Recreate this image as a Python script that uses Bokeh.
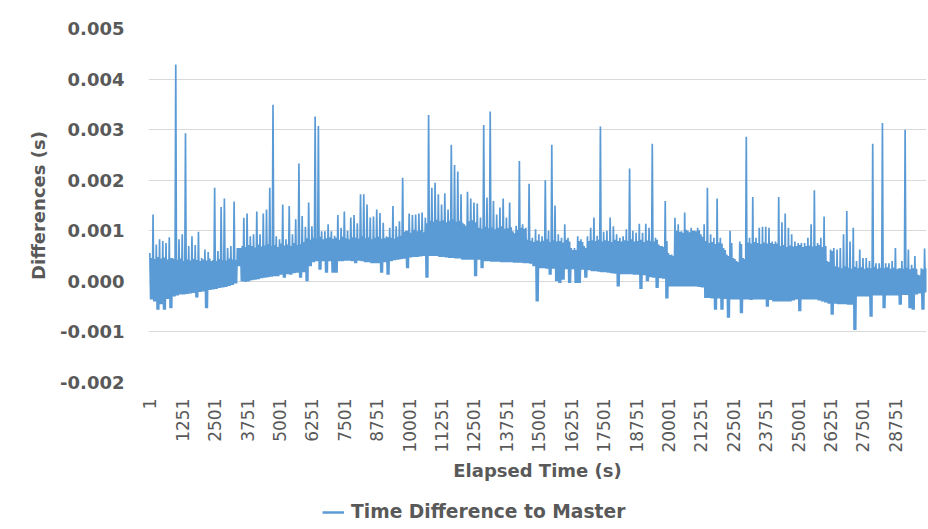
import math
from bokeh.plotting import figure
from bokeh.layouts import column
from bokeh.models import (FixedTicker, PrintfTickFormatter, Legend, LegendItem,
                          Range1d, ColumnDataSource)
from bokeh.embed import file_html
from bokeh.resources import INLINE

# ---- data (values in milliseconds, i.e. 0.001 s) ----
# three readings per 125 s slot: highest spike, lowest dip, top of the dense band
step_s = 125
upper_ms = [
    0.56, 1.32, 0.73, 0.83, 0.80, 0.76, 0.87, 0.46, 4.29, 0.83,
    0.93, 2.93, 0.70, 0.89, 0.72, 0.98, 0.46, 0.63, 0.58, 0.40,
    1.85, 0.60, 1.47, 1.64, 0.66, 0.70, 1.58, 0.66, 0.66, 1.26,
    1.34, 0.89, 0.93, 1.38, 0.93, 1.34, 1.42, 1.85, 3.49, 0.89,
    0.83, 1.52, 0.83, 1.49, 0.93, 1.23, 2.33, 1.29, 1.08, 1.56,
    1.09, 3.26, 3.07, 0.99, 0.99, 1.13, 0.99, 0.90, 1.31, 1.06,
    1.38, 1.00, 1.26, 1.31, 1.15, 1.72, 1.72, 1.52, 1.26, 1.28,
    1.42, 1.35, 1.16, 0.89, 1.06, 1.49, 1.09, 1.19, 2.05, 1.00,
    1.34, 1.31, 1.32, 1.34, 1.36, 1.26, 3.29, 1.85, 1.95, 1.72,
    1.52, 1.74, 1.42, 2.70, 2.30, 2.17, 1.72, 1.13, 1.77, 1.64,
    1.56, 1.54, 1.26, 3.09, 1.66, 3.36, 1.59, 1.32, 1.46, 1.64,
    1.26, 1.56, 0.99, 1.10, 2.38, 1.13, 1.06, 1.93, 0.86, 1.03,
    0.93, 0.89, 2.00, 1.00, 2.70, 1.50, 0.93, 0.86, 1.13, 0.86,
    0.66, 0.66, 0.89, 0.83, 0.70, 0.89, 1.06, 1.26, 0.90, 3.06,
    0.98, 1.00, 1.26, 1.09, 0.93, 0.86, 0.89, 1.03, 2.23, 1.00,
    0.96, 1.14, 0.96, 1.14, 1.06, 2.72, 0.86, 0.73, 0.70, 1.59,
    0.56, 0.53, 1.26, 1.13, 0.99, 1.36, 1.00, 1.06, 1.00, 1.06,
    0.93, 1.13, 1.85, 0.93, 0.86, 1.64, 0.86, 0.66, 0.53, 1.00,
    0.46, 0.40, 0.79, 0.46, 2.86, 0.86, 1.67, 0.86, 1.06, 1.08,
    1.08, 1.06, 0.79, 0.79, 1.67, 1.17, 1.34, 1.06, 0.93, 0.79,
    0.76, 0.76, 0.76, 0.86, 1.13, 1.80, 0.76, 0.86, 1.28, 0.40,
    0.63, 0.66, 0.63, 0.66, 0.93, 1.39, 0.79, 1.06, 0.40, 0.63,
    0.46, 0.46, 0.40, 2.72, 0.36, 0.36, 3.13, 0.36, 0.36, 0.40,
    0.66, 0.26, 0.40, 3.00, 0.63, 0.33, 0.50, 0.13, 0.26, 0.65,
    0.13,
]
lower_ms = [
    -0.36, -0.40, -0.56, -0.45, -0.56, -0.35, -0.53, -0.30, -0.28, -0.26,
    -0.26, -0.25, -0.24, -0.23, -0.32, -0.21, -0.20, -0.53, -0.17, -0.16,
    -0.15, -0.13, -0.12, -0.11, -0.09, -0.07, -0.04, 0.30, 0.00, -0.01,
    0.00, 0.02, 0.03, 0.04, 0.06, 0.07, 0.08, 0.09, 0.10, 0.10,
    0.13, 0.07, 0.14, 0.13, 0.16, 0.17, 0.07, 0.18, 0.00, 0.30,
    0.38, 0.40, 0.23, 0.40, 0.17, 0.40, 0.17, 0.17, 0.40, 0.40,
    0.41, 0.41, 0.40, 0.36, 0.41, 0.40, 0.38, 0.38, 0.36, 0.36,
    0.36, 0.17, 0.38, 0.13, 0.40, 0.42, 0.43, 0.44, 0.45, 0.26,
    0.47, 0.48, 0.48, 0.49, 0.50, 0.07, 0.50, 0.50, 0.50, 0.48,
    0.48, 0.47, 0.46, 0.46, 0.45, 0.45, 0.43, 0.43, 0.43, 0.43,
    0.10, 0.43, 0.26, 0.40, 0.40, 0.39, 0.39, 0.39, 0.38, 0.38,
    0.38, 0.38, 0.37, 0.37, 0.37, 0.36, 0.36, 0.35, 0.30, -0.40,
    0.26, 0.26, 0.25, 0.13, 0.25, 0.00, -0.03, 0.03, 0.24, -0.03,
    0.24, -0.03, -0.03, 0.23, 0.07, 0.22, 0.20, 0.20, 0.19, 0.18,
    0.18, 0.17, 0.16, 0.15, -0.10, 0.14, 0.14, 0.14, 0.14, 0.13,
    0.13, -0.15, 0.12, 0.00, 0.08, 0.07, -0.13, 0.06, 0.05, -0.34,
    -0.10, -0.10, -0.10, -0.10, -0.10, -0.10, -0.10, -0.10, -0.10, -0.11,
    -0.12, -0.33, -0.33, -0.34, -0.56, -0.34, -0.56, -0.35, -0.72, -0.36,
    -0.36, -0.36, -0.63, -0.36, -0.36, -0.37, -0.36, -0.36, -0.36, -0.36,
    -0.50, -0.37, -0.40, -0.40, -0.40, -0.40, -0.40, -0.40, -0.38, -0.36,
    -0.59, -0.36, -0.36, -0.36, -0.36, -0.36, -0.38, -0.40, -0.42, -0.44,
    -0.66, -0.44, -0.45, -0.45, -0.45, -0.46, -0.46, -0.96, -0.30, -0.30,
    -0.30, -0.30, -0.70, -0.28, -0.28, -0.28, -0.53, -0.28, -0.28, -0.28,
    -0.28, -0.46, -0.27, -0.27, -0.53, -0.56, -0.26, -0.24, -0.56, -0.22,
    -0.20,
]
band_top_ms = [
    0.46, 0.44, 0.48, 0.45, 0.47, 0.43, 0.46, 0.44,
    0.42, 0.45, 0.40, 0.43, 0.41, 0.44, 0.42, 0.40, 0.43, 0.41, 0.45, 0.42,
    0.40, 0.44, 0.42, 0.41, 0.45, 0.43, 0.42,
    0.66, 0.70, 0.68, 0.72, 0.70, 0.67, 0.73, 0.69, 0.71, 0.74, 0.70, 0.72,
    0.68, 0.75, 0.71, 0.73, 0.70, 0.76, 0.72, 0.74, 0.78,
    0.85, 0.82, 0.86, 0.84, 0.88, 0.83, 0.85, 0.87, 0.84, 0.86, 0.82, 0.88,
    0.85, 0.83, 0.87, 0.86, 0.84, 0.89, 0.85, 0.87, 0.83, 0.86, 0.88, 0.84,
    0.85, 0.87, 0.86, 0.84, 0.88, 0.90,
    0.98, 1.00, 0.96, 1.02, 0.99, 1.01, 0.97,
    1.15, 1.20, 1.18, 1.22, 1.19, 1.21, 1.17, 1.20, 1.23, 1.18, 1.20, 1.16,
    1.10, 1.19, 1.21, 1.17,
    1.06, 1.04, 1.08, 1.05, 1.07, 1.03, 1.06, 1.09, 1.04, 1.05, 1.07, 0.95,
    1.02, 1.06, 1.04,
    0.82, 0.80, 0.78, 0.81, 0.79, 0.80, 0.83, 0.78, 0.81, 0.79, 0.80, 0.77,
    0.82, 0.79, 0.62, 0.62, 0.80, 0.78, 0.66, 0.80, 0.81,
    0.80, 0.82, 0.79, 0.81, 0.80, 0.78, 0.82, 0.80, 0.79, 0.81, 0.80, 0.83,
    0.79, 0.80, 0.82, 0.78, 0.81, 0.80, 0.79, 0.82, 0.70, 0.68, 0.80, 0.52,
    0.50, 1.00, 0.98, 0.96, 1.02, 0.97, 1.00, 0.99, 1.01,
    0.88, 0.80, 0.76, 0.78, 0.74, 0.77, 0.75, 0.62, 0.50, 0.76, 0.44, 0.38,
    0.74, 0.44, 0.77, 0.75, 0.78, 0.76, 0.74, 0.77, 0.75, 0.76, 0.74, 0.75,
    0.70, 0.72, 0.68, 0.71, 0.69, 0.70, 0.72, 0.68, 0.70, 0.71, 0.69, 0.70,
    0.72, 0.68, 0.70, 0.38, 0.60,
    0.30, 0.28, 0.26, 0.30, 0.27, 0.25, 0.29, 0.26, 0.28, 0.25, 0.27, 0.26,
    0.29, 0.25, 0.27, 0.26, 0.28, 0.25, 0.27, 0.24, 0.26, 0.25, 0.27, 0.24,
    0.26, 0.25, 0.12, 0.24, 0.26, 0.12,
]
x_tick_values = [1 + 1250 * k for k in range(24)]
y_tick_values = [-0.002, -0.001, 0.0, 0.001, 0.002, 0.003, 0.004, 0.005]
series_name = "Time Difference to Master"

# ---- build the line: spike, dip, band top, dip inside each 125 s slot ----
xs, ys = [], []
for i, (hi, lo, top) in enumerate(zip(upper_ms, lower_ms, band_top_ms)):
    t0 = 1 + step_s * i
    for dt, v in ((0, hi), (31, lo), (62, top), (94, lo)):
        xs.append(t0 + dt)
        ys.append(v / 1000.0)
src = ColumnDataSource(data=dict(t=xs, d=ys))

FONT = "DejaVu Sans"
GREY = "#595959"
BLUE = "#5B9BD5"

p = figure(width=928, height=495, output_backend="svg", toolbar_location=None,
           x_range=Range1d(-50, 29950), y_range=Range1d(-0.002, 0.005),
           min_border_left=148, min_border_right=2, min_border_top=28,
           min_border_bottom=113)
p.outline_line_color = None
p.background_fill_color = "white"
p.border_fill_color = "white"

r = p.line("t", "d", source=src, line_color=BLUE, line_width=1.7)

# x axis
xa = p.xaxis[0]
xa.ticker = FixedTicker(ticks=x_tick_values)
xa.major_label_orientation = math.pi / 2
xa.axis_line_color = None
xa.major_tick_line_color = None
xa.minor_tick_line_color = None
xa.major_tick_out = 0
xa.major_label_standoff = 16
xa.major_label_text_font = FONT
xa.major_label_text_font_size = "17px"
xa.major_label_text_color = GREY
xa.axis_label = "Elapsed Time (s)"
xa.axis_label_text_font = FONT
xa.axis_label_text_font_style = "bold"
xa.axis_label_text_font_size = "18px"
xa.axis_label_text_color = GREY
xa.axis_label_standoff = 4

# y axis
ya = p.yaxis[0]
ya.ticker = FixedTicker(ticks=y_tick_values)
ya.formatter = PrintfTickFormatter(format="%.3f")
ya.axis_line_color = None
ya.major_tick_line_color = None
ya.minor_tick_line_color = None
ya.major_tick_out = 0
ya.major_label_standoff = 24
ya.major_label_text_font = FONT
ya.major_label_text_font_style = "bold"
ya.major_label_text_font_size = "18px"
ya.major_label_text_color = GREY
ya.axis_label = "Differences (s)"
ya.axis_label_text_font = FONT
ya.axis_label_text_font_style = "bold"
ya.axis_label_text_font_size = "18px"
ya.axis_label_text_color = GREY
ya.axis_label_standoff = 8

p.xgrid.grid_line_color = None
p.ygrid.grid_line_color = "#d9d9d9"
p.ygrid.grid_line_width = 1

# ---- legend strip under the chart (its frame is aligned with the chart's) ----
leg = figure(width=928, height=34, output_backend="svg", toolbar_location=None,
             x_range=Range1d(0, 1), y_range=Range1d(1, 2),
             min_border_left=0, min_border_right=0, min_border_top=0,
             min_border_bottom=0, x_axis_location=None, y_axis_location=None)
leg.outline_line_color = None
leg.xgrid.visible = False
leg.ygrid.visible = False
# the same series, drawn outside this strip's visible ranges: only its key shows
key = leg.line("t", "d", source=src, line_color=BLUE, line_width=2.5)
legend = Legend(items=[LegendItem(label=series_name, renderers=[key])],
                location=(174, 7), orientation="horizontal",
                glyph_width=22, label_standoff=7,
                padding=4, margin=0,
                border_line_color=None, background_fill_alpha=0,
                label_text_font=FONT, label_text_font_style="bold",
                label_text_font_size="18.7px", label_text_color=GREY)
leg.add_layout(legend, "center")

layout = column(p, leg, spacing=0)
open("out.html", "w").write(file_html(layout, INLINE))
